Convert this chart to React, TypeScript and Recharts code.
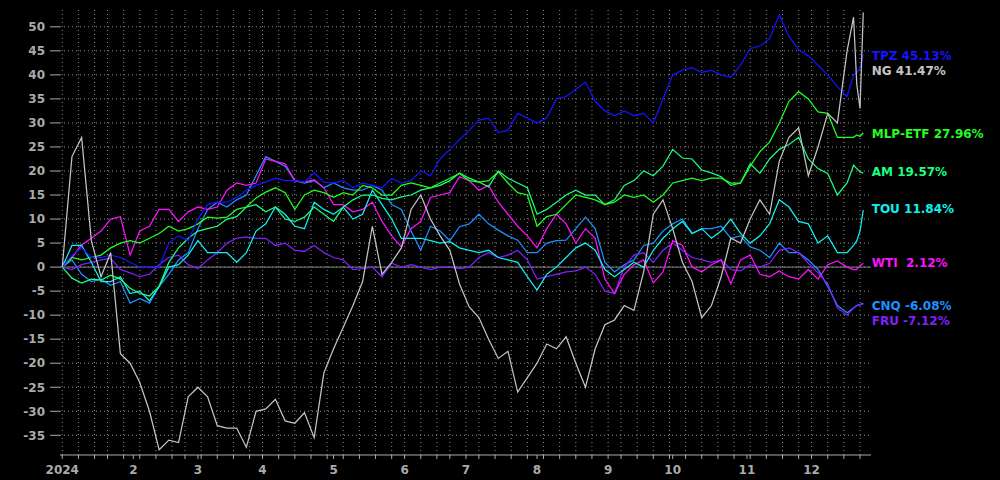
import React from 'react';
import { LineChart, Line, XAxis, YAxis, CartesianGrid, ReferenceLine } from 'recharts';

// trading-day index (0 = base day before Jan 2, 2024)
const days = [
  0, 3, 6, 9, 12, 15, 18, 21, 24, 27, 30, 33, 36, 39, 42, 45, 48, 51, 54, 57,
  60, 63, 66, 69, 72, 75, 78, 81, 84, 87, 90, 93, 96, 99, 102, 105, 108, 111, 114, 117,
  120, 123, 126, 129, 132, 135, 138, 141, 144, 147, 150, 153, 156, 159, 162, 165, 168, 171, 174, 177,
  180, 183, 186, 189, 192, 195, 198, 201, 204, 207, 210, 213, 216, 219, 222, 225, 228, 231, 234, 237,
  240, 243, 245, 246, 247, 248,
];

const tpz = [
  0, 2.5, 4, 2, 2, 2.5, 2, 1, 0, 0,
  0, 5, 6.5, 5.5, 10, 13, 13.5, 13.5, 14.5, 16,
  17, 17.7, 18.5, 18, 18, 17.7, 19.6, 17.7, 17.5, 18,
  16.5, 17.5, 17, 16.5, 18.5, 17.5, 18, 20, 19, 22.5,
  24.5, 26.5, 28.5, 30.6, 31, 28, 28.5, 32, 31, 30,
  31, 35, 35.5, 37, 38.5, 34.5, 32.5, 31.5, 32.5, 31.5,
  32, 30, 35, 40, 41, 41.5, 40.5, 41, 40, 39.5,
  42, 45.5, 46, 47.5, 52.5, 48, 45.2, 44, 42, 40, 37.5,
  35.5, 40, 40.5, 41.5, 44.2,
];
const ng = [
  0, 23, 27, 5.5, -2, 3, -18, -20, -24, -30,
  -38, -36, -36.5, -27, -25, -27, -33, -33.5, -33.5, -37.5,
  -30, -29.5, -27.5, -32, -32.5, -30.3, -35.5, -22, -17, -12.5,
  -8, -3, 8.5, -1.5, 1, 4, 12, 15, 10, 6.5,
  3.5, -3.5, -8.3, -10.5, -15, -19, -17.5, -26, -23, -20,
  -16, -17, -14.5, -20, -25, -17, -12, -11, -8, -9,
  -1, 11, 14, 8, 1, -3, -10.5, -8, -2, 6,
  5, 10, 14, 11, 22, 27, 29, 19, 25, 32, 30,
  45, 52, 38, 33, 53,
];
const mlp = [
  0, 2, 1.5, 2, 2.5, 4, 5, 5.5, 5, 6,
  7, 8.5, 7.5, 8, 9, 10.4, 10.2, 10.4, 12, 12.5,
  14.4, 15.6, 16.5, 15.5, 12, 15, 16, 15.5, 14.5, 15.5,
  15, 17, 16.5, 15, 15, 17, 17.5, 17, 16.5, 17.5,
  18.5, 19.5, 18, 17.7, 18, 19.8, 17.5, 15.5, 15, 8.5,
  10.5, 11, 13, 15, 14.5, 14, 13, 13.5, 15, 14.5,
  15, 13.5, 15, 17.5, 18, 18.5, 18, 18.5, 18.5, 17.5,
  17.5, 21, 24, 26, 30, 34.5, 36.5, 35, 32.3, 32, 27,
  27, 27, 27.5, 27.2, 27.96,
];
const am = [
  0, -2.3, -3.3, -2.5, -2.7, -1.7, -2.5, -4.4, -5.5, -6,
  -4, 1, 4, 6, 7.5, 8, 8.5, 10, 10.5, 12.5,
  13, 11.5, 12.5, 10, 9.5, 10.4, 12.5, 11, 9.5, 12.5,
  14, 15, 15, 14.3, 14, 14.6, 15, 16, 16.5, 17,
  18, 19.6, 18.5, 17.7, 16.7, 20, 18.5, 17.5, 16.5, 11,
  12, 13.5, 15, 16, 15, 15, 13, 14, 17, 18,
  20, 19, 21, 24.5, 22.7, 22.5, 20.2, 19.6, 18.8, 17,
  17.5, 21.5, 19.5, 22.5, 24.5, 25.5, 27, 22.5, 20.5, 19.5, 15,
  17.5, 21.2, 20.5, 19.8, 19.57,
];
const tou = [
  0, 4.5, 4.5, 1, -3, -3, -2, -5.5, -5, -7,
  -4, 0, 0.5, 2.5, 5.5, 3, 3, 3, 1, 3,
  7.5, 9, 12.5, 11, 8.5, 8, 13.5, 12, 11, 12.5,
  10, 11, 16, 13, 10, 6, 6, 6, 5.5, 5,
  5.3, 4, 3.5, 3, 3.5, 2, 1.5, 1, -2, -4.8,
  -1.5, 0, 2, 4, 5, 3.5, -0.5, -2, -0.5, 1,
  0, 3.5, 6, 8, 9.5, 7, 8, 6, 7.5, 10,
  7, 5, 6.5, 9, 14, 12.5, 9.5, 9, 5, 6.5, 3,
  3, 4.5, 5.5, 7.5, 11.84,
];
const wti = [
  0, 2, 4.6, 6, 7.5, 10, 10.5, 2.5, 7.5, 8.5,
  12, 12, 9.5, 11.5, 12.5, 12, 12.5, 16, 17.5, 17,
  17.5, 22.5, 22, 21.5, 18, 17.7, 18.2, 16.5, 13, 13,
  11.5, 12, 13.5, 9.5, 6.5, 4.2, 8, 9.5, 14.5, 15,
  15.5, 18.8, 18, 16, 17, 13.5, 11, 8.5, 6.5, 4,
  8, 11, 9, 5, 8, 6, -2.5, -5.5, -1.5, 0.5,
  1.5, -3.3, -1, 5.5, 4.5, 0, -1, 0.5, 1.5, -3.5,
  1.5, 2.5, -1.5, -2, -0.8, -2, -2.5, -0.5, -2.5, 0.5, 1.3,
  0, -0.5, -0.5, 0.3, 0.8,
];
const cnq = [
  0, 1.5, -1.5, -3, -2.5, -3.8, -3, -7.5, -6.5, -7.5,
  -4, -1.5, 1.5, 3, 8, 12, 13.5, 12.5, 14, 15,
  19, 23, 22, 21, 18, 17.5, 18, 16.5, 17.5, 16.5,
  16, 16, 17, 16, 13, 12, 7.5, 3.5, 8.5, 7.5,
  5.5, 8.4, 9, 11, 9, 7.7, 6.5, 5.6, 3, 3,
  5, 5.5, 5.6, 8, 10.4, 8, 1, -1, 0.5, 1.5,
  4.5, 5, 7.5, 9, 10, 7, 8, 8, 8.5, 6,
  6.5, 4.2, 3.5, 2, 5, 3, 3, 1.5, -0.5, -4, -8,
  -9.5, -8.5, -8, -7.8, -7.5,
];
const fru = [
  0, -0.5, 0.5, 1, 1.5, 1.8, -0.5, -1.2, -2, -1.5,
  0.5, 2, 2.5, 0.5, -0.3, 1.5, 3, 5, 6, 6.3,
  6, 6, 4.5, 5, 3.5, 3.3, 4.5, 3, 2, 1.5,
  -0.5, -0.3, 0, -2, 0.8, 0, 0.5, 0, -0.5, 0,
  0, -0.3, 0, 2, 3, 2, 2.5, 3.5, 1.5, -2.5,
  -2, -1.5, -1, -0.8, 0, -1.5, -5, -5.5, 0, 2.5,
  3, 1, 3.5, 5, 3.5, 2, 1.5, 1, 1.5, -0.5,
  -0.8, 0.5, 0, 0.8, 3.5, 4, 3, 0.8, -1.2, -3.5, -8.5,
  -10, -8.5, -8, -7.8, -7.7,
];

const endLabels = {
  TPZ: 'TPZ 45.13%',
  NG: 'NG 41.47%',
  'MLP-ETF': 'MLP-ETF 27.96%',
  AM: 'AM 19.57%',
  TOU: 'TOU 11.84%',
  WTI: 'WTI  2.12%',
  CNQ: 'CNQ -6.08%',
  FRU: 'FRU -7.12%',
};

const monthTickDays = [0, 22, 42, 62, 84, 106, 125, 147, 169, 189, 212, 232];
const monthTickLabels = ['2024', '2', '3', '4', '5', '6', '7', '8', '9', '10', '11', '12'];
const weekTickDays = [
  0, 5, 10, 14, 19, 24, 29, 34, 38, 43, 48, 53, 58, 62, 67, 72, 77, 82, 87, 92, 97, 102,
  106, 111, 116, 120, 125, 129, 134, 139, 144, 149, 154, 159, 164, 169, 173, 178, 183, 188,
  193, 198, 203, 208, 213, 218, 223, 228, 232, 237, 242, 247,
];
const yTicks = [-35, -30, -25, -20, -15, -10, -5, 0, 5, 10, 15, 20, 25, 30, 35, 40, 45, 50];

const seriesValues: Record<string, number[]> = {
  TPZ: tpz, NG: ng, 'MLP-ETF': mlp, AM: am, TOU: tou, WTI: wti, CNQ: cnq, FRU: fru,
};

const data = days.map((d, i) => {
  const row: Record<string, number> = { d };
  Object.keys(seriesValues).forEach((k) => { row[k] = seriesValues[k][i]; });
  return row;
});

// drawing order, color and label offset (px)
const seriesStyle = [
  { key: 'CNQ', color: '#1e90ff', dy: 3 },
  { key: 'FRU', color: '#8020ff', dy: 17 },
  { key: 'WTI', color: '#ff10ff', dy: 0 },
  { key: 'TOU', color: '#10f0f0', dy: -1 },
  { key: 'AM', color: '#1aff80', dy: -1 },
  { key: 'MLP-ETF', color: '#22ff22', dy: 1.3 },
  { key: 'TPZ', color: '#1414ff', dy: 1.3 },
  { key: 'NG', color: '#c4c4c4', dy: 58.6 },
];

const FONT = 'DejaVu Sans';
const TICK_COLOR = '#aaaaaa';
const allXTicks = Array.from(new Set([...weekTickDays, ...monthTickDays])).sort((a, b) => a - b);

const makeEndLabel = (text: string, color: string, dy: number) => (props: any) => {
  const { index } = props;
  const x = props.x ?? props.viewBox?.x;
  const y = props.y ?? props.viewBox?.y;
  if (index !== days.length - 1) return <g key={`e${index}`} />;
  return (
    <text
      key="end"
      x={x + 8.5}
      y={y + dy}
      fill={color}
      fontSize={12}
      fontWeight="bold"
      fontFamily={FONT}
      dominantBaseline="central"
      style={{ whiteSpace: 'pre' }}
    >
      {text}
    </text>
  );
};

const XTick = (props: any) => {
  const { x, y, payload } = props;
  const mi = monthTickDays.indexOf(payload.value);
  if (mi < 0) return <g />;
  return (
    <text x={x} y={y + 13} textAnchor="middle" fill={TICK_COLOR} fontSize={12} fontWeight="bold" fontFamily={FONT}>
      {monthTickLabels[mi]}
    </text>
  );
};

export default function App() {
  return (
    <div style={{ width: 1000, height: 480, background: '#000' }}>
      <style>{'html,body{margin:0;padding:0;background:#000;}'}</style>
      <LineChart width={1000} height={480} data={data} margin={{ top: 10, right: 129, bottom: 0, left: 0 }}>
        <CartesianGrid
          stroke="#8a8a8a"
          strokeDasharray="1 3"
          verticalValues={weekTickDays}
          horizontalValues={yTicks}
        />
        <XAxis
          dataKey="d"
          type="number"
          domain={[-0.7, 250.4]}
          ticks={allXTicks}
          interval={0}
          height={25}
          tickSize={4}
          tick={<XTick />}
          axisLine={{ stroke: TICK_COLOR }}
          tickLine={{ stroke: TICK_COLOR }}
        />
        <YAxis
          type="number"
          domain={[-39.1, 53.5]}
          ticks={yTicks}
          interval={0}
          width={60}
          tickSize={10}
          tickMargin={5}
          axisLine={false}
          tickLine={{ stroke: TICK_COLOR }}
          tick={{ fill: TICK_COLOR, fontSize: 12, fontWeight: 'bold', fontFamily: FONT }}
        />
        <ReferenceLine y={0} stroke="#808080" strokeWidth={1} />
        {seriesStyle.map((s) => (
          <Line
            key={s.key}
            type="linear"
            dataKey={s.key}
            stroke={s.color}
            strokeWidth={1.25}
            dot={false}
            activeDot={false}
            isAnimationActive={false}
            label={makeEndLabel((endLabels as any)[s.key], s.color, s.dy)}
          />
        ))}
      </LineChart>
    </div>
  );
}
